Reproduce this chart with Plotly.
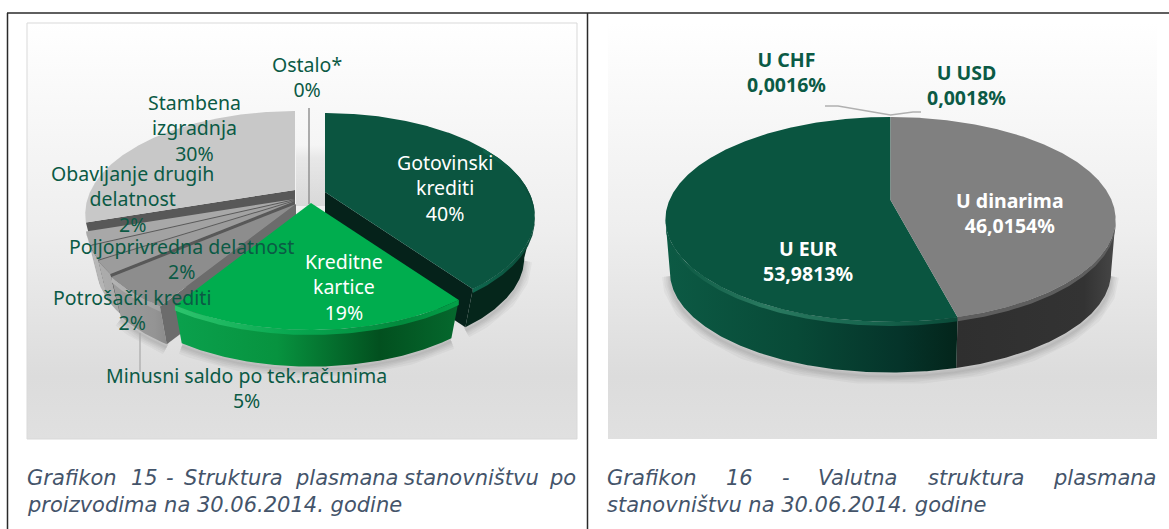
import numpy as np
import plotly.graph_objects as go

# ---- data ----
products = ["Gotovinski<br>krediti", "Kreditne<br>kartice", "Minusni saldo po tek.računima",
            "Potrošački krediti", "Poljoprivredna delatnost",
            "Obavljanje drugih<br>delatnost", "Stambena<br>izgradnja", "Ostalo*"]
product_values = [40, 19, 5, 2, 2, 2, 30, 0]

currencies = ["U USD", "U dinarima", "U EUR", "U CHF"]
currency_values = [0.0018, 46.0154, 53.9813, 0.0016]
currency_labels = ["0,0018%", "46,0154%", "53,9813%", "0,0016%"]

caption_15 = ["Grafikon", "15", "-", "Struktura", "plasmana", "stanovništvu", "po"]
caption_15b = "proizvodima na 30.06.2014. godine"
caption_16 = ["Grafikon", "16", "-", "Valutna", "struktura", "plasmana"]
caption_16b = "stanovništvu na 30.06.2014. godine"

# ---- geometry / style ----
FONT = "Noto Sans"
CAP_FONT = "DejaVu Sans"
TXT = "#0b5a45"
CAP = "#44546a"

fig = go.Figure()


def proj(g, theta, s=1.0, dy=0.0):
    """Disc angle (clockwise from the back) -> picture position, with perspective."""
    u, v = np.sin(theta), np.cos(theta)
    w = 1 + g["k"] * v
    return g["cx"] + s * g["A"] * u / w, g["cy"] + dy - s * g["B"] * v / w


def arc(g, a0, a1, s=1.0, dy=0.0):
    t = np.radians(np.linspace(a0, a1, max(int(abs(a1 - a0) * 2), 2) + 1))
    return proj(g, t, s, dy)


def poly(x, y, color=None, grad=None, vertical=False, start=None, stop=None):
    kw = {}
    if grad:
        kw["fillgradient"] = dict(type="vertical" if vertical else "horizontal",
                                  colorscale=grad, start=start, stop=stop)
    else:
        kw["fillcolor"] = color
    fig.add_trace(go.Scatter(x=list(x), y=list(y), mode="lines", fill="toself",
                             line=dict(width=0), hoverinfo="skip", showlegend=False, **kw))


def line(x, y, color, width):
    fig.add_trace(go.Scatter(x=list(x), y=list(y), mode="lines", hoverinfo="skip",
                             line=dict(color=color, width=width), showlegend=False))


def shadow(g, a0, a1, s, dy, extra=3):
    x, y = arc(g, a0, a1, s, dy + extra)
    for w in (16, 12, 8, 5, 2):
        line(x, y, "rgba(0,0,0,0.035)", w)


def tangents(g):
    a = np.degrees(np.arccos(-g["k"]))
    return a, 360 - a


def wall(g, a0, a1, s, dy, grad, x0, x1):
    t0, t1 = tangents(g)
    a0, a1 = max(a0, t0), min(a1, t1)
    if a1 <= a0:
        return
    xt, yt = arc(g, a0, a1)
    xb, yb = arc(g, a0, a1, s, dy)
    poly(np.r_[xt, xb[::-1]], np.r_[yt, yb[::-1]], grad=grad, start=x0, stop=x1)


def face(g, a, s, dy, color):
    xr, yr = proj(g, np.radians(a))
    xb, yb = proj(g, np.radians(a), s, dy)
    poly([g["cx"], xr, xb, g["cx"]], [g["cy"], yr, yb, g["cy"] + dy], color)


def top(g, a0, a1, color):
    x, y = arc(g, a0, a1)
    poly(np.r_[g["cx"], x], np.r_[g["cy"], y], color)


def bevel(g, a0, a1, h, grad, x0, x1):
    x, y = arc(g, a0, a1)
    poly(np.r_[x, x[::-1]], np.r_[y, (y + h)[::-1]], grad=grad, start=x0, stop=x1)


# panels and table rules
def panel(x0, x1, y0, y1):
    poly([x0, x1, x1, x0], [y0, y0, y1, y1],
         grad=[[0, "#ffffff"], [0.5, "#eeeeee"], [0.85, "#dcdcdc"], [1, "#e0e0e0"]],
         vertical=True, start=y0, stop=y1)


panel(27, 577, 23, 439)
panel(608, 1157, 23, 439)

# ---- left chart (exploded) ----
LEFT = dict(A=204, B=97.4, k=0.233)
SL, DL = 0.95, 43
centres = {0: (325, 192), 1: (311, 203), 2: (296, 204), 3: (295, 201),
           4: (295, 200), 5: (295, 199), 6: (295, 190), 7: (309, 190)}
edges = np.r_[0, np.cumsum(product_values)] * 3.6
G = {i: dict(LEFT, cx=centres[i][0], cy=centres[i][1]) for i in centres}

shadow(G[0], tangents(G[0])[0], edges[1], SL, DL)
shadow(G[1], edges[1], edges[2], SL, DL)
shadow(G[2], edges[2], edges[3], SL, DL)

# soft shadows either side of the sliver
for xa, xb in ((296, 310), (310, 326)):
    poly([xa, xb, xb, xa], [145, 145, 206, 206],
         grad=[[0, "rgba(0,0,0,0.0)"], [0.2, "rgba(0,0,0,0.05)"], [1, "rgba(0,0,0,0.10)"]],
         vertical=True, start=145, stop=206)

styles = {
    6: dict(topc="#c8c8c8", cut="#585858",
            w=[[0, "#e4e4e4"], [0.06, "#f2f2f2"], [0.12, "#c4c4c4"], [1, "#c4c4c4"]]),
    5: dict(topc="#a8a8a8", cut="#5a5a5a", w=[[0, "#c6c6c6"], [1, "#b4b4b4"]]),
    4: dict(topc="#a2a2a2", cut="#5c5c5c", w=[[0, "#b8b8b8"], [1, "#a8a8a8"]]),
    3: dict(topc="#9c9c9c", cut="#585858", w=[[0, "#aeaeae"], [1, "#a0a0a0"]]),
    2: dict(topc="#8d8d8d", cut="#6c6c6c", w=[[0, "#a2a2a2"], [0.7, "#949494"], [1, "#7c7c7c"]]),
}
for i in (6, 5, 4, 3, 2):
    a0, a1 = edges[i], edges[i + 1]
    st = styles[i]
    wall(G[i], a0, a1, SL, DL, st["w"], 85, 185 if i != 6 else 300)
    face(G[i], a0, SL, DL, st["cut"])
    top(G[i], a0, a1, st["topc"])

# Minusni bevel
bevel(G[2], edges[2], edges[3], 5,
      [[0, "#b4b4b4"], [1, "#a0a0a0"]], 110, 165)

# Ostalo sliver
xs, ys = proj(G[7], np.radians(edges[8]))
line([xs, xs, xs], [ys - 3, G[7]["cy"], G[7]["cy"] + 14], "#8c8c8c", 1.4)

# Gotovinski
wall(G[0], edges[0], edges[1], SL, DL,
     [[0, "#05261b"], [0.8, "#05261b"], [1, "#0a3a2b"]], 465, 535)
face(G[0], edges[1], SL, DL, "#05221a")
top(G[0], edges[0], edges[1], "#0b5540")
bevel(G[0], 60, edges[1], 4, [[0, "#0f6a50"], [1, "#0a4a38"]], 470, 535)

# Kreditne
wall(G[1], edges[1], edges[2], SL, DL,
     [[0, "#0aa04c"], [0.35, "#07933f"], [0.72, "#02501f"], [1, "#05682d"]], 180, 457)
top(G[1], edges[1], edges[2], "#00ad4e")
bevel(G[1], edges[1], edges[2], 5,
      [[0, "#2cc36c"], [0.4, "#08a850"], [0.8, "#028a3d"], [1, "#03a048"]], 180, 457)

line([140, 140], [333, 372], "#a8a8a8", 1.2)

# ---- right chart ----
R = dict(cx=890.5, cy=200, A=221, B=98.8, k=0.19)
SR, DR = 0.98, 53
edges_r = np.r_[0, np.cumsum(currency_values)] * 3.6
shadow(R, tangents(R)[0], tangents(R)[1], SR, DR, 4)
wall(R, 90, edges_r[2], SR, DR, [[0, "#2f2f2f"], [0.8, "#333333"], [1, "#474747"]], 957, 1116)
wall(R, edges_r[2], 270, SR, DR,
     [[0, "#0c5a44"], [0.45, "#084a37"], [0.8, "#05342a"], [1, "#03251b"]], 665, 957)
top(R, edges_r[2], edges_r[3], "#0a5540")
top(R, edges_r[1], edges_r[2], "#808080")
bevel(R, edges_r[2], 259, 4,
      [[0, "#0a5540"], [0.35, "#2a7a60"], [0.7, "#17654e"], [1, "#0a4a38"]], 665, 957)
bevel(R, 101, edges_r[2], 4, [[0, "#5e5e5e"], [1, "#5e5e5e"]], 957, 1116)
line([825, 838, 890.5, 913, 921], [106, 106, 115, 112, 112], "#b0b0b0", 1.3)


# ---- texts ----
def label(x, y, text, color=TXT, bold=False, size=19.5):
    fig.add_annotation(x=x, y=y, text=f"<b>{text}</b>" if bold else text, showarrow=False,
                       xanchor="center", yanchor="middle", align="center",
                       font=dict(family=FONT, size=size, color=color))


def pct(v):
    return f"{v}%"


label(445, 188, f"{products[0]}<br>{pct(product_values[0])}", "#ffffff")
label(344, 287, f"{products[1]}<br>{pct(product_values[1])}", "#ffffff")
label(246, 388, f"{products[2]}<br>{pct(product_values[2])}")
label(132, 310, f"{products[3]}<br>{pct(product_values[3])}")
label(181, 259, f"{products[4]}<br>{pct(product_values[4])}")
label(132, 199, f"{products[5]}<br>{pct(product_values[5])}")
label(194, 128, f"{products[6]}<br>{pct(product_values[6])}")
label(307, 77, f"{products[7]}<br>{pct(product_values[7])}")

label(966, 85, f"{currencies[0]}<br>{currency_labels[0]}", bold=True)
label(1010, 213, f"{currencies[1]}<br>{currency_labels[1]}", "#ffffff", True)
label(808, 261, f"{currencies[2]}<br>{currency_labels[2]}", "#ffffff", True)
label(786, 72, f"{currencies[3]}<br>{currency_labels[3]}", bold=True)


def cap(x, y, text):
    fig.add_annotation(x=x, y=y, text=f"<i>{text}</i>", showarrow=False, xanchor="left",
                       yanchor="middle", borderpad=0, borderwidth=0,
                       font=dict(family=CAP_FONT, size=21, color=CAP))


for x, t in zip([27, 131, 166, 184, 295, 404, 549], caption_15):
    cap(x, 478, t)
cap(27, 505, caption_15b)
for x, t in zip([607, 726, 782, 818, 928, 1053], caption_16):
    cap(x, 478, t)
cap(607, 505, caption_16b)

rule = dict(color="#2a2a2a", width=1.5)
fig.add_shape(type="line", x0=7, x1=1169, y0=13, y1=13, line=rule)
fig.add_shape(type="line", x0=7.5, x1=7.5, y0=13, y1=529, line=rule)
fig.add_shape(type="line", x0=587.5, x1=587.5, y0=13, y1=529, line=rule)
fig.add_shape(type="rect", x0=27, x1=577, y0=23, y1=439, line=dict(color="#d9d9d9", width=1))

fig.update_layout(width=1169, height=529, margin=dict(l=0, r=0, t=0, b=0),
                  paper_bgcolor="white", plot_bgcolor="white", showlegend=False,
                  xaxis=dict(range=[0, 1169], visible=False, fixedrange=True),
                  yaxis=dict(range=[529, 0], visible=False, fixedrange=True))

fig.write_html("out.html", config={"displayModeBar": False},
               post_script="document.body.style.margin='0';document.body.style.overflow='hidden';")
